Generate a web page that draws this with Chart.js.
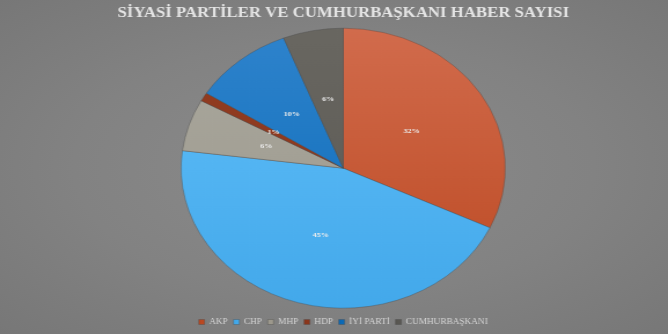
<!DOCTYPE html>
<html lang="tr">
<head>
<meta charset="UTF-8">
<title>Siyasi Partiler ve Cumhurbaşkanı Haber Sayısı</title>
<script src="https://cdn.jsdelivr.net/npm/chart.js@4.4.1/dist/chart.umd.min.js"></script>
<style>
  html, body { margin: 0; padding: 0; }
  body {
    width: 668px; height: 334px; overflow: hidden;
    background: radial-gradient(ellipse at 50% 50%, #8b8b8b 0%, #828282 55%, #777777 100%);
  }
  /* chart is drawn narrower and stretched sideways, like the original slide */
  #wrap { position: absolute; left: 0; top: 0; width: 577px; height: 334px;
          transform: scaleX(1.1577); transform-origin: 0 0; }
</style>
</head>
<body>
<div id="wrap"><canvas id="pie" width="577" height="334"></canvas></div>
<script>
const parties = ['AKP', 'CHP', 'MHP', 'HDP', 'İYİ PARTİ', 'CUMHURBAŞKANI'];
const shares = [32, 45, 6, 1, 10, 6];
const topColors = ['#d26c4d', '#62c0fa', '#aaa89e', '#923d22', '#2f84cd', '#696761'];
const bottomColors = ['#bb4821', '#42a8ea', '#9c988c', '#8a361c', '#0a69b6', '#595752'];

function sliceFill(context) {
  const i = context.dataIndex;
  const area = context.chart.chartArea;
  if (!area) return topColors[i];
  const g = context.chart.ctx.createLinearGradient(0, area.top, 0, area.bottom);
  g.addColorStop(0, topColors[i]);
  g.addColorStop(1, bottomColors[i]);
  return g;
}

// percentage text in the middle of every slice
const sliceLabels = {
  id: 'sliceLabels',
  afterDatasetsDraw(chart) {
    const ctx = chart.ctx;
    const meta = chart.getDatasetMeta(0);
    ctx.save();
    ctx.font = 'bold 7px "Liberation Serif"';
    ctx.fillStyle = '#ececec';
    ctx.textAlign = 'center';
    ctx.textBaseline = 'middle';
    meta.data.forEach((arc, i) => {
      const p = arc.tooltipPosition();
      ctx.fillText(shares[i] + '%', p.x, p.y);
    });
    ctx.restore();
  }
};

new Chart(document.getElementById('pie'), {
  type: 'pie',
  data: {
    labels: parties,
    datasets: [{
      data: shares,
      backgroundColor: sliceFill,
      borderColor: 'rgba(70,70,70,0.35)',
      borderWidth: 1,
      radius: 140
    }]
  },
  options: {
    responsive: false,
    animation: false,
    layout: { padding: { left: 16, right: 0, top: 0, bottom: -2 } },
    plugins: {
      title: {
        display: true,
        text: 'SİYASİ PARTİLER VE CUMHURBAŞKANI HABER SAYISI',
        color: '#e4e4e4',
        font: { family: '"Liberation Serif"', size: 14.5, weight: 'bold' },
        padding: { top: 5, bottom: 1 }
      },
      legend: {
        position: 'bottom',
        labels: {
          color: '#d6d6d6',
          font: { family: '"Liberation Serif"', size: 8 },
          boxWidth: 5,
          boxHeight: 5,
          padding: 5
        }
      },
      tooltip: { enabled: false }
    }
  },
  plugins: [sliceLabels]
});
</script>
</body>
</html>
